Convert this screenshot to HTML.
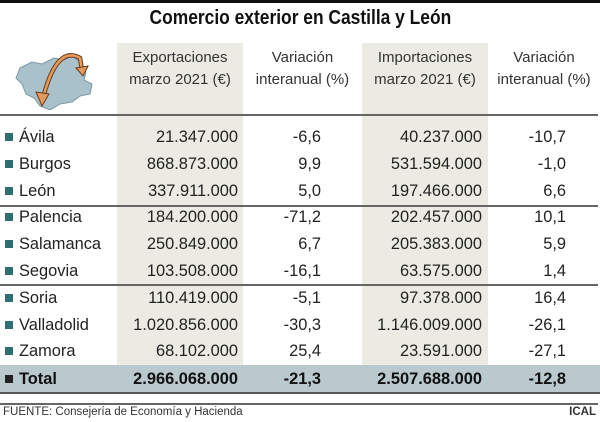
<!DOCTYPE html>
<html><head><meta charset="utf-8"><style>
body{margin:0;width:600px;height:422px;background:#fff;position:relative;overflow:hidden;font-family:"Liberation Sans",sans-serif;color:#222}
.a{position:absolute;white-space:nowrap}
.r{text-align:right}
.t{font-size:16.4px;line-height:20px}
.h{font-size:15px;line-height:22px;text-align:center;color:#333}
.sq{position:absolute;width:8px;height:8px;background:#2f6e73;left:5px}
</style></head><body>
<div class="a" style="left:0;top:0;width:600px;height:3px;background:#111"></div>
<div class="a" style="left:0;top:5px;width:600px;text-align:center;font-size:20px;font-weight:bold;line-height:26px;color:#111"><span style="display:inline-block;transform:scaleX(0.87)">Comercio exterior en Castilla y León</span></div>
<div class="a" style="left:117px;top:43px;width:126px;height:322px;background:#ecebe3"></div>
<div class="a" style="left:362px;top:43px;width:126px;height:322px;background:#ecebe3"></div>
<div class="a" style="left:0;top:365px;width:600px;height:28px;background:#b9c9ce"></div>
<div class="a" style="left:0;top:392px;width:600px;height:2px;background:#555"></div>
<div class="a" style="left:0;top:114px;width:598px;height:2px;background:#666"></div>
<div class="a" style="left:0;top:205px;width:598px;height:2px;background:#666"></div>
<div class="a" style="left:0;top:284px;width:598px;height:2px;background:#666"></div>
<div class="a" style="left:0;top:403px;width:598px;height:2px;background:#666"></div>
<svg class="a" style="left:12px;top:44px" width="85" height="66" viewBox="0 0 85 66">
<path d="M8 24 L20 18 L30 20 L42 14 L52 16 L60 12 L68 18 L74 28 L72 36 L80 40 L78 50 L68 52 L60 58 L48 60 L38 66 L28 62 L22 54 L14 50 L10 40 L4 34 Z" fill="#a9c1cb" stroke="#7d98a3" stroke-width="1"/>
<path d="M30 58 Q44 0 68 14 L70 26" fill="none" stroke="#6b3a1a" stroke-width="4.5"/>
<path d="M30 58 Q44 0 68 14 L70 26" fill="none" stroke="#e39a5b" stroke-width="2.5"/>
<path d="M24 48 L30 62 L37 50 Z" fill="#e39a5b" stroke="#6b3a1a" stroke-width="1"/>
<path d="M64 24 L71 32 L76 22 Z" fill="#e39a5b" stroke="#6b3a1a" stroke-width="1"/>
</svg>
<div class="a h" style="left:117px;top:47px;width:126px">Exportaciones<br>marzo 2021 (€)</div>
<div class="a h" style="left:243px;top:47px;width:119px">Variación<br>interanual (%)</div>
<div class="a h" style="left:362px;top:47px;width:126px">Importaciones<br>marzo 2021 (€)</div>
<div class="a h" style="left:488px;top:47px;width:112px">Variación<br>interanual (%)</div>
<div id="rows"></div>
<div class="a" style="left:3px;top:405px;font-size:11.5px;line-height:14px;color:#333">FUENTE: Consejería de Economía y Hacienda</div>
<div class="a" style="right:4px;top:405px;font-size:11.5px;line-height:14px;font-weight:bold;color:#333">ICAL</div>
<script>
var d=[["Ávila","21.347.000","-6,6","40.237.000","-10,7"],["Burgos","868.873.000","9,9","531.594.000","-1,0"],["León","337.911.000","5,0","197.466.000","6,6"],["Palencia","184.200.000","-71,2","202.457.000","10,1"],["Salamanca","250.849.000","6,7","205.383.000","5,9"],["Segovia","103.508.000","-16,1","63.575.000","1,4"],["Soria","110.419.000","-5,1","97.378.000","16,4"],["Valladolid","1.020.856.000","-30,3","1.146.009.000","-26,1"],["Zamora","68.102.000","25,4","23.591.000","-27,1"],["Total","2.966.068.000","-21,3","2.507.688.000","-12,8"]];
var h="";d.forEach(function(r,i){var y=(i<9?137+i*26.8:379)-10;var b=i==9?"font-weight:bold;color:#111;":"";
h+='<div class="sq" style="top:'+(y+6)+'px;'+(i==9?'background:#222':'')+'"></div>';
h+='<div class="a t" style="left:19px;top:'+y+'px;'+b+'">'+r[0]+'</div>';
h+='<div class="a t r" style="right:'+(600-238)+'px;top:'+y+'px;'+b+'">'+r[1]+'</div>';
h+='<div class="a t r" style="right:'+(600-321)+'px;top:'+y+'px;'+b+'">'+r[2]+'</div>';
h+='<div class="a t r" style="right:'+(600-482)+'px;top:'+y+'px;'+b+'">'+r[3]+'</div>';
h+='<div class="a t r" style="right:'+(600-566)+'px;top:'+y+'px;'+b+'">'+r[4]+'</div>';});
document.getElementById("rows").innerHTML=h;
</script>
</body></html>
